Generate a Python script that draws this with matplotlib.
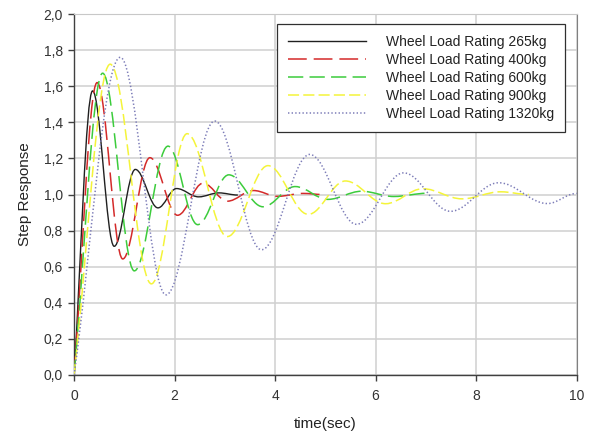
import matplotlib
matplotlib.use("Agg")
import matplotlib.pyplot as plt
from matplotlib.path import Path
from matplotlib.patches import PathPatch
from matplotlib.lines import Line2D

plt.rcParams['font.family'] = ['Liberation Sans', 'DejaVu Sans']
plt.rcParams['lines.scale_dashes'] = False

# Respuesta al escalón: puntos de inicio, picos/valles y final de cada curva
t_265 = [0, 0.37, 0.80, 1.22, 1.67, 2.04, 2.48, 2.88, 3.26]
y_265 = [0, 1.574, 0.713, 1.139, 0.926, 1.033, 0.987, 1.009, 0.997]

t_400 = [0, 0.46, 0.97, 1.51, 2.06, 2.57, 3.05, 3.57, 4.05, 4.56, 4.95]
y_400 = [0, 1.62, 0.643, 1.204, 0.885, 1.063, 0.963, 1.022, 0.99, 1.006, 1.0]

t_600 = [0, 0.57, 1.20, 1.87, 2.46, 3.08, 3.76, 4.40, 5.05, 5.72, 6.36, 7.03]
y_600 = [0, 1.672, 0.577, 1.268, 0.833, 1.109, 0.932, 1.044, 0.973, 1.018, 0.989, 1.007]

t_900 = [0, 0.72, 1.54, 2.25, 3.05, 3.86, 4.66, 5.40, 6.20, 6.94, 7.72, 8.49, 9.05]
y_900 = [0, 1.722, 0.505, 1.337, 0.767, 1.16, 0.89, 1.075, 0.949, 1.032, 0.976, 1.015, 1.0]

t_1320 = [0, 0.92, 1.83, 2.80, 3.73, 4.69, 5.62, 6.56, 7.49, 8.45, 9.42, 10.0]
y_1320 = [0, 1.76, 0.444, 1.407, 0.694, 1.222, 0.835, 1.12, 0.907, 1.065, 0.95, 1.006]

etiquetas = ['Wheel Load Rating 265kg', 'Wheel Load Rating 400kg',
             'Wheel Load Rating 600kg', 'Wheel Load Rating 900kg',
             'Wheel Load Rating 1320kg']
colores = ['#202020', '#d42a2a', '#3ccc3c', '#f4f43a', '#7c7cb8']
estilos = ['-', (0, (13.5, 5)), (0, (11, 4.5)), (0, (8, 3)), (0, (1, 1.6))]
series = [(t_265, y_265), (t_400, y_400), (t_600, y_600),
          (t_900, y_900), (t_1320, y_1320)]


def trayectoria(ts, ys, k=0.363):
    # Curva suave entre extremos consecutivos (tangente horizontal en picos y valles)
    verts = [(ts[0], ys[0])]
    codes = [Path.MOVETO]
    for i in range(len(ts) - 1):
        dt = ts[i + 1] - ts[i]
        dy = ys[i + 1] - ys[i]
        if i == 0:
            c1 = (ts[i] + k * dt, ys[i] + k * dy)
        else:
            c1 = (ts[i] + k * dt, ys[i])
        c2 = (ts[i + 1] - k * dt, ys[i + 1])
        verts += [c1, c2, (ts[i + 1], ys[i + 1])]
        codes += [Path.CURVE4] * 3
    return Path(verts, codes)


fig = plt.figure(figsize=(5.92, 4.37), dpi=100)
ax = fig.add_axes([0.125, 0.1419, 0.849, 0.826])

handles = []
for (ts, ys), c, ls, lab in zip(series, colores, estilos, etiquetas):
    lw = 1.1 if ls != '-' else 1.0
    ax.add_patch(PathPatch(trayectoria(ts, ys), fill=False, edgecolor=c,
                           linewidth=lw, linestyle=ls, zorder=3))
    handles.append(Line2D([], [], color=c, linewidth=lw, linestyle=ls, label=lab))

ax.set_xlim(0, 10)
ax.set_ylim(0, 2.0)
ax.set_xticks(range(0, 11, 2))
yt = [i * 0.2 for i in range(11)]
ax.set_yticks(yt)
ax.set_yticklabels([f"{v:.1f}".replace('.', ',') for v in yt])
ax.grid(True, color='#d0d0d0', linewidth=1.1)
ax.set_axisbelow(True)

for lado in ['left', 'bottom']:
    ax.spines[lado].set_color('#404040')
    ax.spines[lado].set_linewidth(1.0)
ax.spines['right'].set_color('#808080')
ax.spines['top'].set_color('#c8c8c8')
ax.tick_params(direction='out', length=4, width=1.0, color='#404040',
               labelsize=10, labelcolor='#333333', pad=4)
ax.tick_params(axis='x', pad=6)

ax.set_xlabel('time(sec)', fontsize=11, color='#222222', labelpad=10)
ax.set_ylabel('Step Response', fontsize=11, color='#222222', labelpad=8)

leg = ax.legend(handles=handles, loc='upper right', bbox_to_anchor=(0.9766, 0.972),
                borderaxespad=0, fancybox=False, framealpha=1, edgecolor='#303030',
                fontsize=10, handlelength=5.6, handletextpad=1.4, labelspacing=0.28,
                borderpad=0.8, alignment='right')
leg.get_frame().set_linewidth(0.9)
for txt in leg.get_texts():
    txt.set_color('#222222')

fig.savefig('out.png', dpi=100)
